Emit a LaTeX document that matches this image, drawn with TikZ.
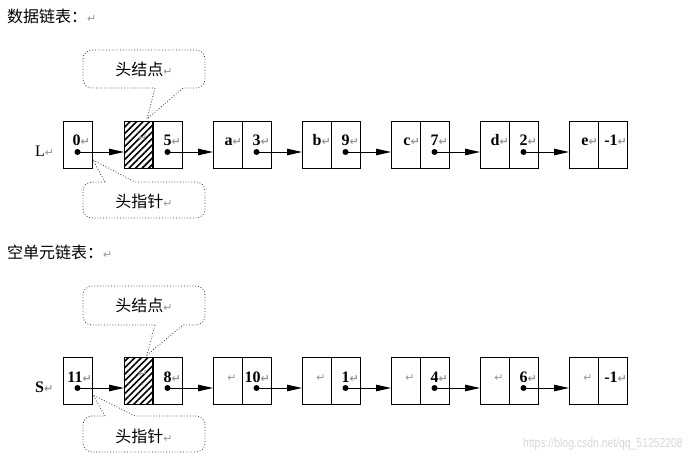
\documentclass[tikz,border=0pt]{standalone}
\usepackage{fontspec}
\setmainfont{Liberation Serif}
\newfontfamily\cjk{Noto Sans CJK SC}
\newfontfamily\symf{DejaVu Sans}
\newfontfamily\wmf{Liberation Sans}
\usetikzlibrary{arrows.meta,patterns.meta}
\definecolor{markgray}{RGB}{150,150,150}
\definecolor{wmgray}{RGB}{215,215,215}
\newcommand{\rmark}{{\symf\fontsize{11}{11}\selectfont\textcolor{markgray}{↵}}}
\newcommand{\llpair}[5]{%
  \node[cell] (#1L) at (#2+14.5,#3+23.5) {};
  \node[cell] (#1R) at (#2+43.5,#3+23.5) {};
  \node[dotn] (#1D) at (#2+43.5,#3+31) {};
  \node[val] (#1Lt) at (#2+29,#3+25) {#4};
  \node[val] (#1Rt) at (#2+57,#3+25) {#5\rmark};
}
\newcommand{\emptypair}[4]{%
  \node[cell] (#1L) at (#2+14.5,#3+23.5) {};
  \node[cell] (#1R) at (#2+43.5,#3+23.5) {};
  \node[dotn] (#1D) at (#2+43.5,#3+31) {};
  \node[inner sep=0pt] (#1Lt) at (#2+19,#3+21) {\rmark};
  \node[val] (#1Rt) at (#2+57,#3+25) {#4\rmark};
}
\begin{document}
\begin{tikzpicture}[x=1pt,y=-1pt,
  cell/.style={draw,line width=0.9pt,minimum width=29pt,minimum height=47pt,inner sep=0pt,outer sep=0pt},
  hatch/.style={cell,line width=0.9pt,pattern={Lines[angle=45,distance=4.6pt,line width=1.6pt]}},
  dotn/.style={circle,fill,inner sep=0pt,minimum size=6pt},
  ptr/.style={line width=1pt,-{Triangle[length=15pt,width=6.5pt]}},
  val/.style={font=\fontsize{16}{16}\selectfont\bfseries,inner sep=0pt,anchor=base east},
  callout/.style={dotted,line width=0.8pt,draw=black!80},
  cjktxt/.style={font=\cjk\fontsize{16}{16}\selectfont,inner sep=0pt},
  lbl/.style={font=\fontsize{16}{16}\selectfont,inner sep=0pt,anchor=base west},
]
\useasboundingbox (0,0) rectangle (694,460);

% ---------- titles ----------
\node[cjktxt,anchor=west] (title1) at (7,16) {数据链表：\rmark};
\node[cjktxt,anchor=west] (title2) at (7,252) {空单元链表：\rmark};

% ================= top row =================
\node[lbl] (Llbl) at (35,157) {L\rmark};
\node[cell] (t0) at (77.5,144.5) {};
\node[dotn] (t0D) at (77.5,152) {};
\node[val] (t0t) at (90,146) {0\rmark};

\node[hatch] (t1L) at (138.5,144.5) {};
\node[inner sep=0pt] (t1m) at (143,138) {\rmark};
\node[cell] (t1R) at (167.5,144.5) {};
\draw[line width=2pt] (t1L.north east) -- (t1L.south east);
\node[dotn] (t1D) at (167.5,152) {};
\node[val] (t1Rt) at (181,146) {5\rmark};

\llpair{t2}{213}{121}{a\rmark}{3}
\llpair{t3}{302}{121}{b\rmark}{9}
\llpair{t4}{391}{121}{c\rmark}{7}
\llpair{t5}{480}{121}{d\rmark}{2}
\node[cell] (t6L) at (583.5,144.5) {};
\node[cell] (t6R) at (612.5,144.5) {};
\node[val] (t6Lt) at (598,146) {e\rmark};
\node[val] (t6Rt) at (627,146) {-1\rmark};

\draw[ptr] (t0D.center) -- (t0D.center -| t1L.west);
\draw[ptr] (t1D.center) -- (t1D.center -| t2L.west);
\draw[ptr] (t2D.center) -- (t2D.center -| t3L.west);
\draw[ptr] (t3D.center) -- (t3D.center -| t4L.west);
\draw[ptr] (t4D.center) -- (t4D.center -| t5L.west);
\draw[ptr] (t5D.center) -- (t5D.center -| t6L.west);

% callouts top
\coordinate (tipA) at (147,119);
\draw[callout] (155,88) -- (tipA) -- (183,88) [rounded corners=9pt] -- (205,88) -- (205,50) -- (83,50) -- (83,88) -- (155,88);
\node[cjktxt] (cA) at (144,69) {头结点\rmark};
\coordinate (tipB) at (93,160);
\draw[callout] (105,182) -- (tipB) -- (135,182) [rounded corners=9pt] -- (205,182) -- (205,218) -- (83,218) -- (83,182) -- (105,182);
\node[cjktxt] (cB) at (144,201) {头指针\rmark};

% ================= bottom row =================
\node[lbl,font=\fontsize{16}{16}\selectfont\bfseries] (Slbl) at (35,392) {S\rmark};
\node[cell] (b0) at (77.5,380.5) {};
\node[dotn] (b0D) at (77.5,388) {};
\node[val] (b0t) at (92,382) {11\rmark};

\node[hatch] (b1L) at (138.5,380.5) {};
\node[inner sep=0pt] (b1m) at (143,374) {\rmark};
\node[cell] (b1R) at (167.5,380.5) {};
\draw[line width=2pt] (b1L.north east) -- (b1L.south east);
\node[dotn] (b1D) at (167.5,388) {};
\node[val] (b1Rt) at (181,382) {8\rmark};

\emptypair{b2}{213}{357}{10}
\emptypair{b3}{302}{357}{1}
\emptypair{b4}{391}{357}{4}
\emptypair{b5}{480}{357}{6}
\node[cell] (b6L) at (583.5,380.5) {};
\node[cell] (b6R) at (612.5,380.5) {};
\node[inner sep=0pt] (b6Lt) at (588,378) {\rmark};
\node[val] (b6Rt) at (627,382) {-1\rmark};

\draw[ptr] (b0D.center) -- (b0D.center -| b1L.west);
\draw[ptr] (b1D.center) -- (b1D.center -| b2L.west);
\draw[ptr] (b2D.center) -- (b2D.center -| b3L.west);
\draw[ptr] (b3D.center) -- (b3D.center -| b4L.west);
\draw[ptr] (b4D.center) -- (b4D.center -| b5L.west);
\draw[ptr] (b5D.center) -- (b5D.center -| b6L.west);

% callouts bottom
\coordinate (tipC) at (147,355);
\draw[callout] (155,325) -- (tipC) -- (183,325) [rounded corners=9pt] -- (205,325) -- (205,286) -- (83,286) -- (83,325) -- (155,325);
\node[cjktxt] (cC) at (144,305) {头结点\rmark};
\coordinate (tipD) at (93,395);
\draw[callout] (105,416) -- (tipD) -- (135,416) [rounded corners=9pt] -- (205,416) -- (205,452) -- (83,452) -- (83,416) -- (105,416);
\node[cjktxt] (cD) at (144,436) {头指针\rmark};

% watermark
\node[font=\wmf\fontsize{13}{13}\selectfont,text=wmgray,inner sep=0pt,anchor=base west,xscale=0.8] (wm) at (523,447) {https://blog.csdn.net/qq\_51252208};
\end{tikzpicture}
\end{document}
